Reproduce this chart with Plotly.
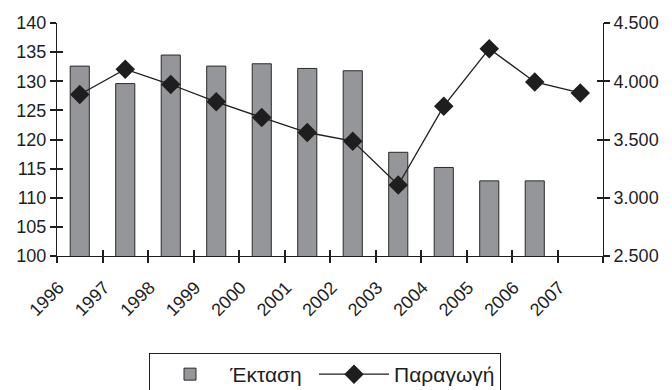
import plotly.graph_objects as go

# Years on the category axis
years = ["1996", "1997", "1998", "1999", "2000", "2001",
         "2002", "2003", "2004", "2005", "2006", "2007"]

# Cultivated area (left axis), no value for 2007
area = [132.6, 129.6, 134.5, 132.6, 133.0, 132.2,
        131.8, 117.8, 115.2, 112.9, 112.9]

# Production (right axis)
production = [3886, 4103, 3972, 3823, 3689, 3560,
              3486, 3109, 3786, 4280, 3994, 3900]

left_ticks = [100, 105, 110, 115, 120, 125, 130, 135, 140]
right_ticks = [2500, 3000, 3500, 4000, 4500]

INK = "#1e1e1e"
FONT = "Liberation Sans, Arial, sans-serif"

fig = go.Figure()

fig.add_trace(go.Bar(
    x=years[:len(area)], y=area, name="Έκταση",
    marker=dict(color="#959699", line=dict(color="#2a2a2a", width=1)),
    width=0.42, yaxis="y", xaxis="x", legendwidth=79,
))

fig.add_trace(go.Scatter(
    x=years, y=production, name="Παραγωγή", mode="lines+markers",
    line=dict(color=INK, width=1.3),
    marker=dict(symbol="diamond", size=15, color=INK),
    yaxis="y2", xaxis="x",
))

# empty helper traces so the overlay axes (used only for the inner half
# of the crossing tick marks) get drawn
for xa, ya in (("x2", "y3"), ("x3", "y4")):
    fig.add_trace(go.Scatter(x=[None], y=[None], xaxis=xa, yaxis=ya,
                             showlegend=False, hoverinfo="skip"))

n = len(years)
bounds = [i - 0.5 for i in range(n + 1)]
xr = [-0.5, n - 0.5]

tick_style = dict(tickcolor=INK, tickwidth=1.5, ticklen=6)

common_y = dict(showgrid=False, zeroline=False, linecolor=INK, linewidth=1,
                tickfont=dict(family=FONT, size=18, color=INK), **tick_style)

overlay_x = dict(overlaying="x", side="bottom", type="linear",
                 range=xr, tickvals=bounds, showticklabels=False,
                 showgrid=False, zeroline=False, showline=False, **tick_style)

overlay_y = dict(overlaying="y", ticks="inside", showticklabels=False,
                 showline=False, showgrid=False, zeroline=False, **tick_style)

fig.update_layout(
    width=672, height=390,
    margin=dict(l=57, r=69, t=23, b=134, autoexpand=False),
    paper_bgcolor="white", plot_bgcolor="white",
    separators=",.",
    font=dict(family=FONT, color=INK),
    showlegend=True,
    xaxis=dict(type="category", range=xr, showgrid=False, zeroline=False,
               showline=True, linecolor=INK, linewidth=1, ticks="",
               tickangle=-45, ticklabelshift=-21, ticklabelstandoff=13,
               tickfont=dict(family=FONT, size=18, color=INK)),
    # tick marks on the category boundaries, crossing the axis line
    xaxis2=dict(anchor="y3", ticks="outside", **overlay_x),
    xaxis3=dict(anchor="y4", ticks="inside", **overlay_x),
    yaxis=dict(range=[100, 140], tickvals=left_ticks, ticks="outside",
               showline=True, **common_y),
    yaxis3=dict(anchor="x2", side="left", range=[100, 140],
                tickvals=left_ticks, **overlay_y),
    yaxis2=dict(overlaying="y", anchor="x", side="right", range=[2500, 4500],
                tickvals=right_ticks, tickformat=",d", ticks="outside",
                showline=True, **common_y),
    yaxis4=dict(anchor="x3", side="right", range=[2500, 4500],
                tickvals=right_ticks, **overlay_y),
    legend=dict(orientation="h", x=149 / 672, xanchor="left",
                xref="container", yref="container", y=1 - 353 / 390,
                yanchor="top", bordercolor=INK, borderwidth=1,
                bgcolor="white",
                font=dict(family=FONT, size=21, color=INK),
                itemwidth=70, traceorder="normal"),
)

fig.write_html("out.html")
